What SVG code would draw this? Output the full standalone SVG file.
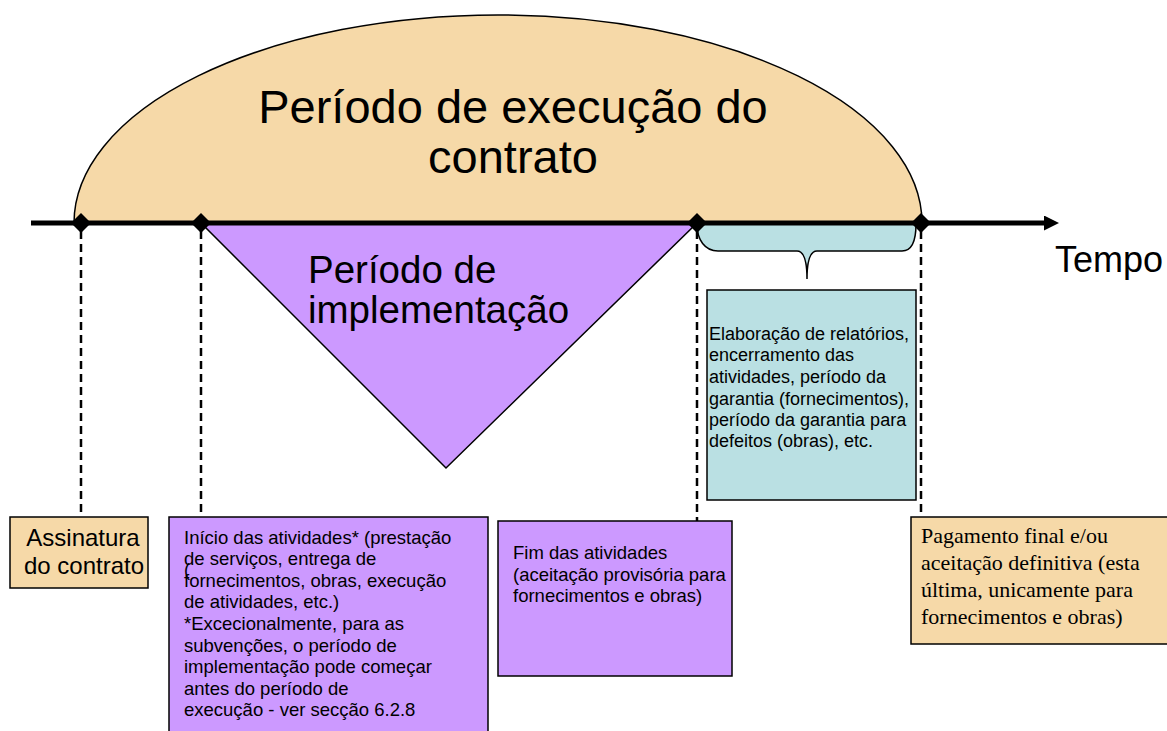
<svg xmlns="http://www.w3.org/2000/svg" width="1167" height="731" viewBox="0 0 1167 731">
<style>
.sans{font-family:"Liberation Sans",Arial,sans-serif;fill:#000}
.serif{font-family:"Liberation Serif","Times New Roman",serif;fill:#000}
.beige{fill:#f6d9a8;stroke:#000;stroke-width:1.5}
.purple{fill:#cc99ff;stroke:#000;stroke-width:1.5}
.blue{fill:#bae0e3;stroke:#000;stroke-width:1.5}
.dash{stroke:#000;stroke-width:2.5;stroke-dasharray:8 5;fill:none}
.dia{fill:#000}
</style>
<defs>
<marker id="arr" viewBox="0 0 10 10" refX="2" refY="5" markerWidth="3" markerHeight="3" orient="auto" markerUnits="strokeWidth">
<path d="M0,0 L10,5 L0,10 z" fill="#000"/>
</marker>
</defs>
<rect width="1167" height="731" fill="#fff"/>
<g id="execucao">
<path class="beige" d="M74,223 A424,208 0 0 1 922,223 Z"/>
<text class="sans" font-size="47" text-anchor="middle" x="513" y="123">Período de execução do</text>
<text class="sans" font-size="47" text-anchor="middle" x="513" y="173">contrato</text>
</g>
<g id="implementacao">
<path class="purple" d="M201,223 L697,223 L446,468 Z"/>
<text class="sans" font-size="38.5" x="308" y="283">Período de</text>
<text class="sans" font-size="38.5" x="308" y="323">implementação</text>
</g>
<g id="chaveta">
<path class="blue" d="M697,224 C697,240 705,251 718,251 L797,251 C803,251 807,260 807,279 C807,260 811,251 817,251 L902,251 C912,251 916,242 916,224 Z"/>
</g>
<g id="connectors">
<line x1="31" y1="223" x2="1047" y2="223" stroke="#000" stroke-width="5" marker-end="url(#arr)"/>
<line class="dash" x1="81" y1="231" x2="81" y2="517"/>
<line class="dash" x1="201" y1="231" x2="201" y2="517"/>
<line class="dash" x1="697" y1="231" x2="697" y2="521"/>
<line class="dash" x1="921" y1="231" x2="921" y2="517"/>
<path class="dia" d="M81,213 L91,223 L81,233 L71,223 Z"/>
<path class="dia" d="M201,213 L211,223 L201,233 L191,223 Z"/>
<path class="dia" d="M697,213 L707,223 L697,233 L687,223 Z"/>
<path class="dia" d="M921,213 L931,223 L921,233 L911,223 Z"/>
</g>
<g id="tempo">
<text class="sans" font-size="36" x="1055" y="272">Tempo</text>
</g>
<g id="relatorios">
<rect class="blue" x="707" y="290" width="209" height="210"/>
<text class="sans" font-size="18" x="709">
<tspan x="709" y="340">Elaboração de relatórios,</tspan>
<tspan x="709" y="361">encerramento das</tspan>
<tspan x="709" y="383">atividades, período da</tspan>
<tspan x="709" y="405">garantia (fornecimentos),</tspan>
<tspan x="709" y="426">período da garantia para</tspan>
<tspan x="709" y="447">defeitos (obras), etc.</tspan>
</text>
</g>
<g id="assinatura">
<rect class="beige" x="10" y="517" width="138" height="71"/>
<text class="sans" font-size="24" text-anchor="middle" x="83" y="546">Assinatura</text>
<text class="sans" font-size="24" text-anchor="middle" x="84" y="574">do contrato</text>
</g>
<g id="inicio">
<rect class="purple" x="169" y="517" width="319" height="220"/>
<text class="sans" font-size="18.5" x="184">
<tspan x="184" y="544">Início das atividades* (prestação</tspan>
<tspan x="184" y="565">de serviços, entrega de</tspan>
<tspan x="184" y="587">fornecimentos, obras, execução</tspan>
<tspan x="184" y="608">de atividades, etc.)</tspan>
<tspan x="184" y="630">*Excecionalmente, para as</tspan>
<tspan x="184" y="652">subvenções, o período de</tspan>
<tspan x="184" y="673">implementação pode começar</tspan>
<tspan x="184" y="695">antes do período de</tspan>
<tspan x="184" y="716">execução - ver secção 6.2.8</tspan>
</text>
<text class="sans" font-size="18" x="184" y="576">(</text>
</g>
<g id="fim">
<rect class="purple" x="498" y="521" width="234" height="155"/>
<text class="sans" font-size="18.5" x="513">
<tspan x="513" y="559">Fim das atividades</tspan>
<tspan x="513" y="581">(aceitação provisória para</tspan>
<tspan x="513" y="602">fornecimentos e obras)</tspan>
</text>
</g>
<g id="pagamento">
<rect class="beige" x="911" y="517" width="262" height="127"/>
<text class="serif" font-size="22" x="921">
<tspan x="921" y="543">Pagamento final e/ou</tspan>
<tspan x="921" y="570">aceitação definitiva (esta</tspan>
<tspan x="921" y="597">última, unicamente para</tspan>
<tspan x="921" y="624">fornecimentos e obras)</tspan>
</text>
</g>
</svg>
